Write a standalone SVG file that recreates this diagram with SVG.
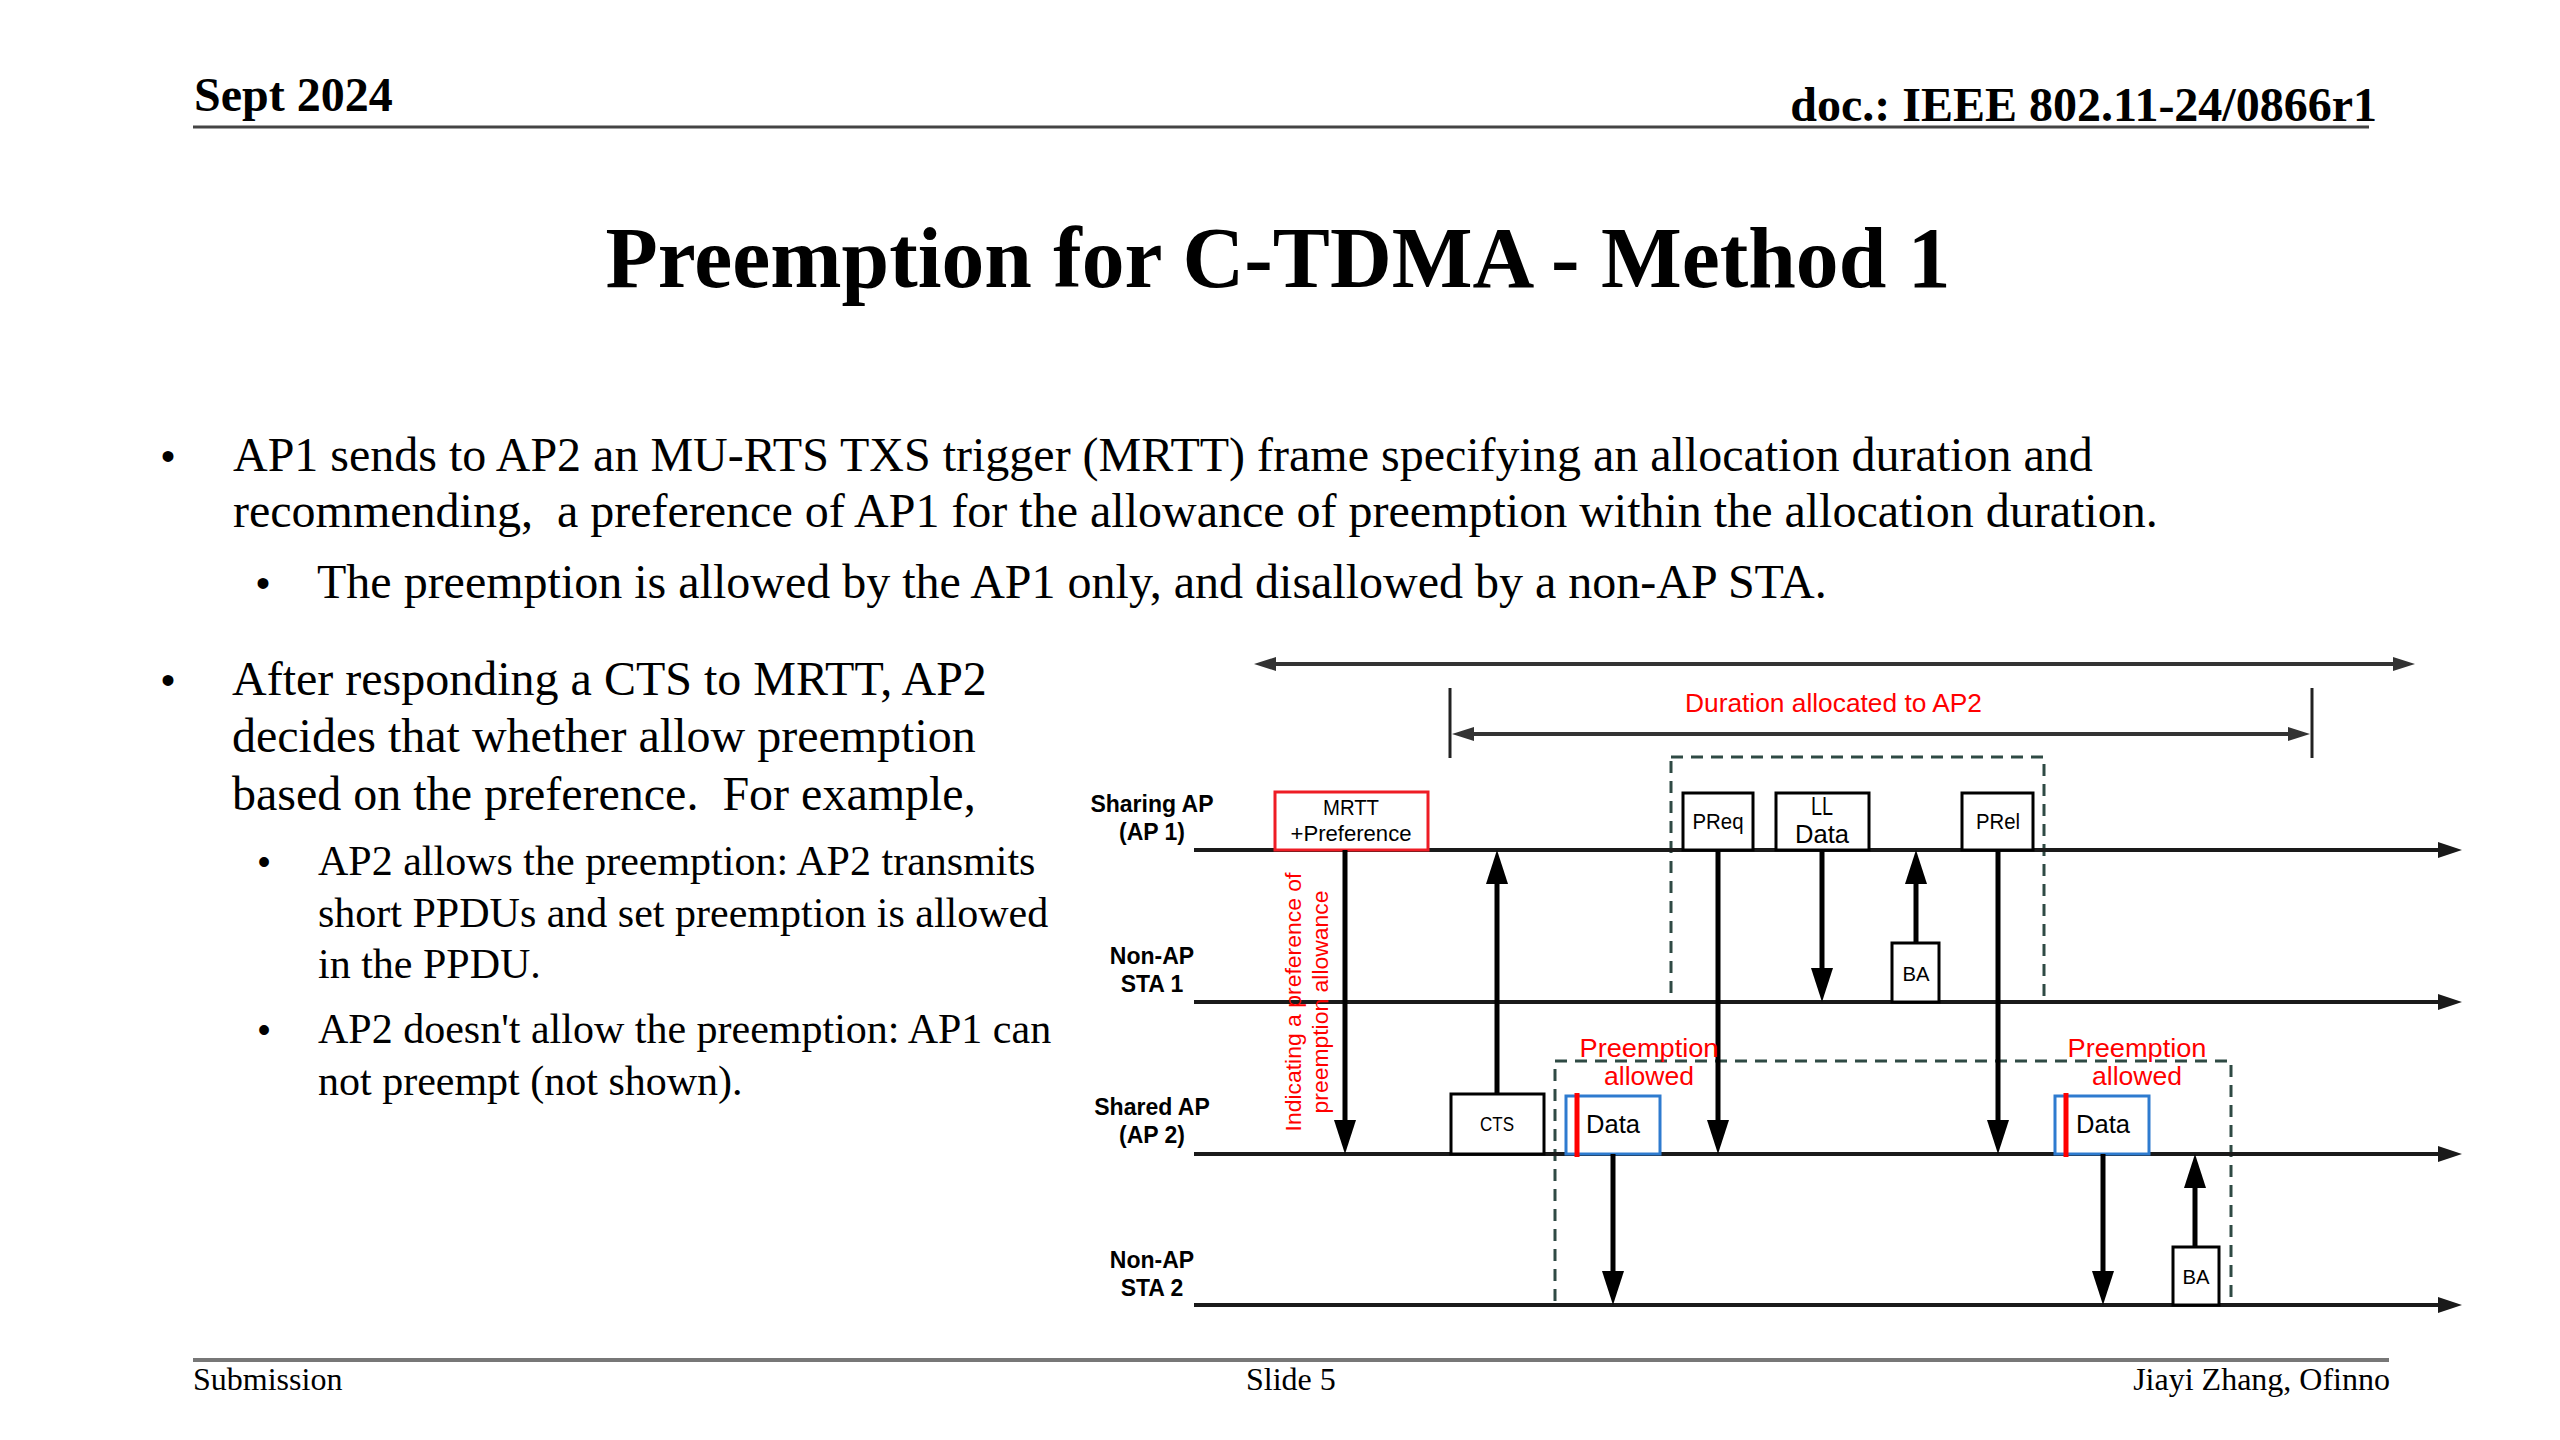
<svg xmlns="http://www.w3.org/2000/svg" width="2560" height="1440" viewBox="0 0 2560 1440">
<style>
.serif{font-family:"Liberation Serif","Times New Roman",serif;fill:#000}
.hdr{font-size:48px;font-weight:bold}
.ftr{font-size:32px}
.body{font-size:48px;white-space:pre}
.sub{font-size:42px;white-space:pre}
.bul{font-family:"Liberation Sans",Arial,sans-serif;text-anchor:middle;fill:#000}
.lbl{font-family:"Liberation Sans",Arial,sans-serif;font-weight:bold;font-size:23px;text-anchor:middle;fill:#000}
.box{fill:#fff;stroke:#000;stroke-width:3}
.rbox{fill:#fff;stroke:#ee1c25;stroke-width:3}
.bbox{fill:#fff;stroke:#2e7bcf;stroke-width:3}
.bar{stroke:#ff0000;stroke-width:5}
.btxt{font-family:"Liberation Sans",Arial,sans-serif;text-anchor:middle;fill:#000}
.rtxt{font-family:"Liberation Sans",Arial,sans-serif;fill:#ff0000}
.life{stroke:#1a1a1a;stroke-width:4}
.arr{stroke:#000;stroke-width:5}
.dur{stroke:#333;stroke-width:4}
.tick{stroke:#222;stroke-width:3}
.dash{fill:none;stroke:#2f4a44;stroke-width:3;stroke-dasharray:12 8}
</style>
<defs>
<marker id="va" markerUnits="userSpaceOnUse" markerWidth="34" markerHeight="22" refX="0" refY="11" orient="auto"><path d="M0,0 L34,11 L0,22 Z" fill="#000"/></marker>
<marker id="la" markerUnits="userSpaceOnUse" markerWidth="24" markerHeight="16" refX="0" refY="8" orient="auto"><path d="M0,0 L24,8 L0,16 Z" fill="#1a1a1a"/></marker>
<marker id="ta" markerUnits="userSpaceOnUse" markerWidth="22" markerHeight="14" refX="0" refY="7" orient="auto-start-reverse"><path d="M0,0 L22,7 L0,14 Z" fill="#333"/></marker>
</defs>
<rect width="2560" height="1440" fill="#fff"/>

<g id="header">
<text class="serif hdr" x="194" y="111">Sept 2024</text>
<text class="serif hdr" x="2377" y="121" text-anchor="end">doc.: IEEE 802.11-24/0866r1</text>
<line x1="193" y1="127" x2="2369" y2="127" stroke="#444" stroke-width="3"/>
</g>

<g id="title">
<text class="serif" x="1278" y="287" font-size="86" font-weight="bold" text-anchor="middle" textLength="1345" lengthAdjust="spacingAndGlyphs">Preemption for C-TDMA - Method 1</text>
</g>

<g id="bullets">
<text class="bul" x="168" y="470" font-size="40">•</text>
<text class="serif body" x="233" y="471">AP1 sends to AP2 an MU-RTS TXS trigger (MRTT) frame specifying an allocation duration and</text>
<text class="serif body" x="233" y="527">recommending,  a preference of AP1 for the allowance of preemption within the allocation duration.</text>
<text class="bul" x="263" y="597" font-size="40">•</text>
<text class="serif body" x="317" y="598">The preemption is allowed by the AP1 only, and disallowed by a non-AP STA.</text>
<text class="bul" x="168" y="694" font-size="40">•</text>
<text class="serif body" x="232" y="695">After responding a CTS to MRTT, AP2</text>
<text class="serif body" x="232" y="752">decides that whether allow preemption</text>
<text class="serif body" x="232" y="810">based on the preference.  For example,</text>
<text class="bul" x="264" y="874" font-size="36">•</text>
<text class="serif sub" x="318" y="875">AP2 allows the preemption: AP2 transmits</text>
<text class="serif sub" x="318" y="927">short PPDUs and set preemption is allowed</text>
<text class="serif sub" x="318" y="978">in the PPDU.</text>
<text class="bul" x="264" y="1042" font-size="36">•</text>
<text class="serif sub" x="318" y="1043">AP2 doesn't allow the preemption: AP1 can</text>
<text class="serif sub" x="318" y="1095">not preempt (not shown).</text>
</g>

<g id="regions">
<rect class="dash" x="1671" y="757" width="373" height="245"/>
<rect class="dash" x="1555" y="1061" width="676" height="244"/>
</g>

<g id="lifelines">
<g id="sharing-ap">
<text class="lbl" x="1152" y="812">Sharing AP</text>
<text class="lbl" x="1152" y="840">(AP 1)</text>
<line class="life" x1="1194" y1="850" x2="2438" y2="850" marker-end="url(#la)"/>
</g>
<g id="sta1">
<text class="lbl" x="1152" y="964">Non-AP</text>
<text class="lbl" x="1152" y="992">STA 1</text>
<line class="life" x1="1194" y1="1002" x2="2438" y2="1002" marker-end="url(#la)"/>
</g>
<g id="shared-ap">
<text class="lbl" x="1152" y="1115">Shared AP</text>
<text class="lbl" x="1152" y="1143">(AP 2)</text>
<line class="life" x1="1194" y1="1154" x2="2438" y2="1154" marker-end="url(#la)"/>
</g>
<g id="sta2">
<text class="lbl" x="1152" y="1268">Non-AP</text>
<text class="lbl" x="1152" y="1296">STA 2</text>
<line class="life" x1="1194" y1="1305" x2="2438" y2="1305" marker-end="url(#la)"/>
</g>
</g>

<g id="timeline">
<line class="dur" x1="1276" y1="664" x2="2393" y2="664" marker-start="url(#ta)" marker-end="url(#ta)"/>
<line class="tick" x1="1450" y1="688" x2="1450" y2="758"/>
<line class="tick" x1="2312" y1="688" x2="2312" y2="758"/>
<line class="dur" x1="1474" y1="734" x2="2288" y2="734" marker-start="url(#ta)" marker-end="url(#ta)"/>
<text class="rtxt" x="1685" y="712" font-size="25" textLength="297" lengthAdjust="spacingAndGlyphs">Duration allocated to AP2</text>
</g>

<g id="node-mrtt">
<rect class="rbox" x="1275" y="792" width="153" height="58"/>
<text class="btxt" x="1351" y="815" font-size="22" textLength="56" lengthAdjust="spacingAndGlyphs">MRTT</text>
<text class="btxt" x="1351" y="841" font-size="22" textLength="121" lengthAdjust="spacingAndGlyphs">+Preference</text>
</g>
<g id="node-preq">
<rect class="box" x="1683" y="793" width="70" height="57"/>
<text class="btxt" x="1718" y="829" font-size="22" textLength="51" lengthAdjust="spacingAndGlyphs">PReq</text>
</g>
<g id="node-lldata">
<rect class="box" x="1776" y="793" width="93" height="57"/>
<text class="btxt" x="1822" y="815" font-size="25" textLength="22" lengthAdjust="spacingAndGlyphs">LL</text>
<text class="btxt" x="1822" y="843" font-size="25" textLength="54" lengthAdjust="spacingAndGlyphs">Data</text>
</g>
<g id="node-prel">
<rect class="box" x="1962" y="793" width="71" height="57"/>
<text class="btxt" x="1998" y="829" font-size="22" textLength="44" lengthAdjust="spacingAndGlyphs">PRel</text>
</g>
<g id="node-ba1">
<rect class="box" x="1892" y="943" width="47" height="59"/>
<text class="btxt" x="1916" y="981" font-size="21" textLength="27" lengthAdjust="spacingAndGlyphs">BA</text>
</g>
<g id="node-cts">
<rect class="box" x="1451" y="1094" width="93" height="60"/>
<text class="btxt" x="1497" y="1131" font-size="21" textLength="34" lengthAdjust="spacingAndGlyphs">CTS</text>
</g>
<g id="node-data1">
<rect class="bbox" x="1566" y="1096" width="94" height="58"/>
<line class="bar" x1="1577" y1="1093" x2="1577" y2="1157"/>
<text class="btxt" x="1613" y="1133" font-size="26" textLength="54" lengthAdjust="spacingAndGlyphs">Data</text>
</g>
<g id="node-data2">
<rect class="bbox" x="2055" y="1096" width="94" height="58"/>
<line class="bar" x1="2066" y1="1093" x2="2066" y2="1157"/>
<text class="btxt" x="2103" y="1133" font-size="26" textLength="54" lengthAdjust="spacingAndGlyphs">Data</text>
</g>
<g id="node-ba2">
<rect class="box" x="2173" y="1247" width="46" height="58"/>
<text class="btxt" x="2196" y="1284" font-size="21" textLength="27" lengthAdjust="spacingAndGlyphs">BA</text>
</g>

<g id="connectors">
<line class="arr" x1="1345" y1="850" x2="1345" y2="1120" marker-end="url(#va)"/>
<line class="arr" x1="1497" y1="1094" x2="1497" y2="884" marker-end="url(#va)"/>
<line class="arr" x1="1718" y1="850" x2="1718" y2="1120" marker-end="url(#va)"/>
<line class="arr" x1="1822" y1="850" x2="1822" y2="968" marker-end="url(#va)"/>
<line class="arr" x1="1916" y1="943" x2="1916" y2="884" marker-end="url(#va)"/>
<line class="arr" x1="1998" y1="850" x2="1998" y2="1120" marker-end="url(#va)"/>
<line class="arr" x1="1613" y1="1154" x2="1613" y2="1271" marker-end="url(#va)"/>
<line class="arr" x1="2103" y1="1154" x2="2103" y2="1271" marker-end="url(#va)"/>
<line class="arr" x1="2195" y1="1247" x2="2195" y2="1188" marker-end="url(#va)"/>
</g>

<g id="annotations">
<text class="rtxt" font-size="22" text-anchor="middle" transform="translate(1301,1002) rotate(-90)" x="0" y="0" textLength="259" lengthAdjust="spacingAndGlyphs">Indicating a preference of</text>
<text class="rtxt" font-size="22" text-anchor="middle" transform="translate(1328,1002) rotate(-90)" x="0" y="0" textLength="223" lengthAdjust="spacingAndGlyphs">preemption allowance</text>
<text class="rtxt" font-size="25" text-anchor="middle" x="1649" y="1057" textLength="139" lengthAdjust="spacingAndGlyphs">Preemption</text>
<text class="rtxt" font-size="25" text-anchor="middle" x="1649" y="1085" textLength="90" lengthAdjust="spacingAndGlyphs">allowed</text>
<text class="rtxt" font-size="25" text-anchor="middle" x="2137" y="1057" textLength="139" lengthAdjust="spacingAndGlyphs">Preemption</text>
<text class="rtxt" font-size="25" text-anchor="middle" x="2137" y="1085" textLength="90" lengthAdjust="spacingAndGlyphs">allowed</text>
</g>

<g id="footer">
<line x1="193" y1="1360" x2="2389" y2="1360" stroke="#777" stroke-width="4"/>
<text class="serif ftr" x="193" y="1390">Submission</text>
<text class="serif ftr" x="1246" y="1390">Slide 5</text>
<text class="serif ftr" x="2390" y="1390" text-anchor="end">Jiayi Zhang, Ofinno</text>
</g>
</svg>
